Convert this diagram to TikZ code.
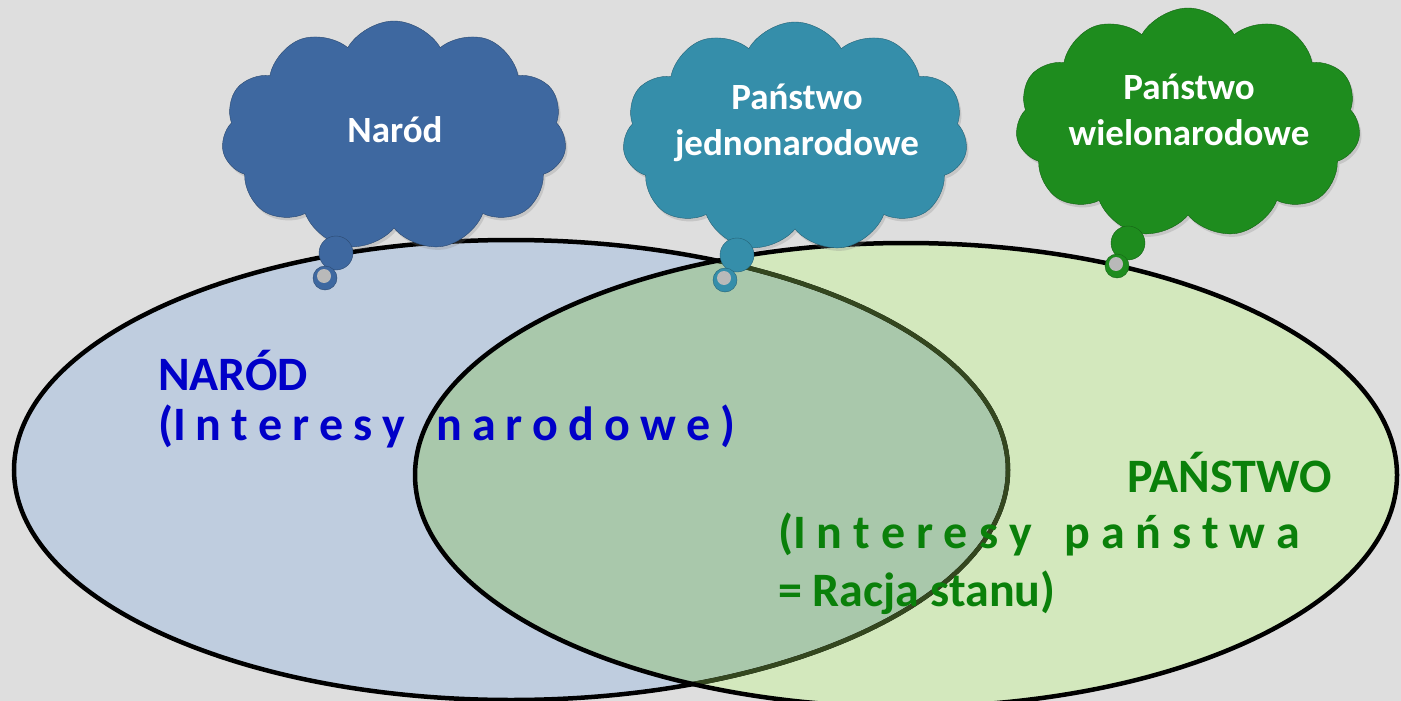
\documentclass[tikz,border=0pt]{standalone}
\usepackage{fontspec}
\setmainfont{Carlito}
\usetikzlibrary{shapes.symbols,shadows}
\definecolor{bg}{HTML}{DEDEDE}
\definecolor{lblue}{HTML}{BFCDDF}
\definecolor{lgreen}{HTML}{D3E8BD}
\definecolor{ovl}{HTML}{A9C8AB}
\definecolor{olivebd}{HTML}{34471F}
\definecolor{cA}{HTML}{3E68A0}
\definecolor{cB}{HTML}{358EAA}
\definecolor{cC}{HTML}{1E8C1E}
\definecolor{tblue}{HTML}{0000C8}
\definecolor{tgreen}{HTML}{0A800A}
\tikzset{
  cloudbox/.style={cloud, cloud puffs=11, cloud puff arc=120, cloud ignores aspect,
    minimum width=345pt, minimum height=230pt, inner sep=0pt,
    drop shadow={opacity=0.25, shadow xshift=2pt, shadow yshift=-3pt}},
  cloudtext/.style={text=white, align=center, font=\fontsize{37}{46}\selectfont\bfseries},
  maintext/.style={inner sep=0pt, anchor=base west, font=\fontsize{48}{56}\selectfont\bfseries},
  bd/.style={line width=4.5pt}
}
\begin{document}
\begin{tikzpicture}[x=1pt,y=-1pt]
\useasboundingbox (0,0) rectangle (1401,701);
\fill[bg] (0,0) rectangle (1401,701);
% ellipses
\fill[lblue] (511,470) ellipse [x radius=497pt, y radius=230pt];
\fill[lgreen] (906,475) ellipse [x radius=491pt, y radius=232pt];
\begin{scope}
  \clip (906,475) ellipse [x radius=491pt, y radius=232pt];
  \fill[ovl] (511,470) ellipse [x radius=497pt, y radius=230pt];
\end{scope}
\draw[bd] (511,470) ellipse [x radius=497pt, y radius=230pt];
\begin{scope}
  \clip (906,475) ellipse [x radius=491pt, y radius=232pt];
  \draw[bd, olivebd] (511,470) ellipse [x radius=497pt, y radius=230pt];
\end{scope}
\draw[bd] (906,475) ellipse [x radius=491pt, y radius=232pt];
% clouds
\node[cloudbox, fill=cA, draw=cA!70!black, thin] (c1) at (394,136) {};
\node[cloudbox, fill=cB, draw=cB!70!black, thin] (c2) at (795,137) {};
\node[cloudbox, fill=cC, draw=cC!70!black, thin] (c3) at (1188,123) {};
% tails
\foreach \cc/\bx/\by/\sx/\sy in {cA/336/253/325/278, cB/737/255/725/280, cC/1128/243/1117/266}{
  \fill[\cc, draw=\cc!70!black, thin] (\bx,\by) circle [radius=17pt];
  \fill[\cc, draw=\cc!70!black, thin] (\sx,\sy) circle [radius=12pt];
  \fill[gray!55!white] (\sx-1,\sy-2) circle [radius=7pt];
}
% cloud texts
\node[cloudtext] (t1) at (395,130) {Naród};
\node[cloudtext] (t2) at (797,123) {Państwo\\jednonarodowe};
\node[cloudtext] (t3) at (1189,110) {Państwo\\wielonarodowe};
% main texts
\node[maintext, text=tblue] (n1) at (158,390) {NARÓD};
\node[maintext, text=tblue] (n2) at (158,440) {\makebox[577pt][l]{(I\hfill n\hfill t\hfill e\hfill r\hfill e\hfill s\hfill y\hfill\hspace{0.226em}\hfill n\hfill a\hfill r\hfill o\hfill d\hfill o\hfill w\hfill e\hfill )}};
\node[maintext, anchor=base east, text=tgreen] (p1) at (1332,492) {PAŃSTWO};
\node[maintext, text=tgreen] (p2) at (778,548) {\makebox[522pt][l]{(I\hfill n\hfill t\hfill e\hfill r\hfill e\hfill s\hfill y\hfill\hspace{0.226em}\hfill p\hfill a\hfill ń\hfill s\hfill t\hfill w\hfill a}};
\node[maintext, text=tgreen] (p3) at (778,606) {= Racja stanu)};
\end{tikzpicture}
\end{document}
